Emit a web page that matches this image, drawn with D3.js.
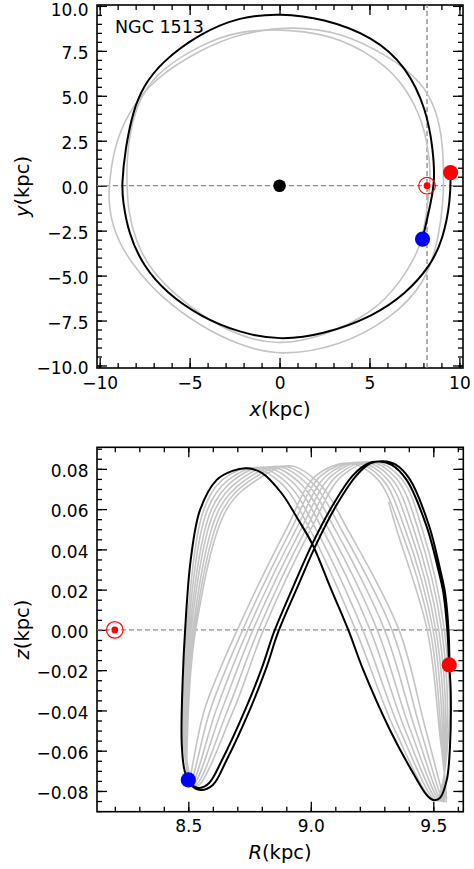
<!DOCTYPE html>
<html>
<head>
<meta charset="utf-8">
<script src="https://cdn.jsdelivr.net/npm/d3@7/dist/d3.min.js"></script>
<style>
body { margin: 0; background: #fff; }
svg { display: block; font-family: 'DejaVu Sans', sans-serif; }
.tick text { font-size: 17px; font-family: 'DejaVu Sans', sans-serif; fill: #000; }
.tick line { stroke: #000; stroke-width: 1.3; }
</style>
</head>
<body>
<svg width="474" height="869"></svg>
<script>
// ---- data ----
var galaxyName = 'NGC 1513';

// top panel: orbit in the x-y plane (kpc)
var xyBlack = [[7.95,-2.97],[8.45,-0.78],[8.63,0.33],[8.54,1.99],[8.17,4.22],[7.06,6.62],[5.21,8.29],
    [2.43,9.31],[0.02,9.59],[-2.2,9.4],[-4.42,8.48],[-6.64,6.81],[-7.57,5.51],[-8.13,4.22],[-8.59,2.0],
    [-8.77,0.05],[-8.72,-0.78],[-8.41,-2.63],[-7.57,-4.49],[-6.27,-5.97],[-4.42,-7.27],[-2.2,-8.19],
    [0.02,-8.6],[2.43,-8.28],[5.21,-7.27],[7.06,-5.97],[8.36,-4.49],[9.09,-3.01],[9.51,-0.78],[9.51,0.73]];
// two older turns, drawn as closed rings
var xyGrayOuter = [[9.13,0.05],[9.09,2.38],[8.72,4.22],[7.93,5.76],[6.13,7.18],[3.36,8.57],[0.58,8.88],
    [-2.2,8.48],[-4.42,7.55],[-6.64,6.16],[-7.94,4.77],[-8.87,3.11],[-9.31,1.44],[-9.46,0.05],[-9.52,-0.78],
    [-9.24,-2.63],[-8.13,-4.49],[-6.64,-6.16],[-4.42,-7.82],[-2.2,-8.89],[0.02,-9.49],[3.36,-8.93],
    [6.13,-7.45],[8.17,-5.41],[8.91,-2.63],[9.09,-0.78]];
var xyGrayInner = [[8.35,1.5],[8.05,3.2],[7.43,4.77],[6.13,6.62],[3.36,8.29],[0.58,8.70],[-2.2,8.66],
    [-4.42,7.83],[-6.64,6.44],[-7.76,4.96],[-8.31,3.11],[-8.49,1.44],[-8.49,0.05],[-8.42,-1.34],[-8.03,-3.01],
    [-7.2,-4.67],[-5.53,-6.33],[-3.59,-7.72],[-1.64,-8.55],[0.02,-8.84],[2.43,-8.39],[5.21,-7.06],
    [6.69,-5.41],[7.8,-3.56],[8.1,-2.0],[8.26,-0.78],[8.38,0.2]];

// bottom panel: orbit in the R-z plane (kpc)
var rzBlack = [[8.500,-0.0745],[8.520,-0.0775],[8.545,-0.0785],[8.585,-0.0760],[8.636,-0.0650],
    [8.731,-0.0400],[8.800,-0.0190],[8.850,-0.0010],[8.930,0.0220],[9.005,0.0425],[9.090,0.0620],
    [9.170,0.0765],[9.230,0.0825],[9.280,0.0836],[9.330,0.0820],[9.391,0.0745],[9.473,0.0513],
    [9.520,0.0300],[9.541,0.0184],[9.557,0.0000],[9.565,-0.0174],[9.571,-0.0300],[9.568,-0.0580],
    [9.555,-0.0745],[9.527,-0.0835],[9.500,-0.0845],[9.473,-0.0820],[9.418,-0.0712],[9.323,-0.0497],
    [9.214,-0.0199],[9.153,0.0000],[9.080,0.0210],[9.008,0.0422],[8.949,0.0547],[8.880,0.0680],
    [8.800,0.0780],[8.738,0.0803],[8.680,0.0790],[8.616,0.0745],[8.548,0.0596],[8.510,0.0350],
    [8.487,0.0000],[8.477,-0.0250],[8.473,-0.0560],[8.485,-0.0700],[8.510,-0.0770],[8.550,-0.0795],
    [8.600,-0.0770],[8.655,-0.0650],[8.750,-0.0400],[8.818,-0.0190],[8.867,-0.0010],[8.948,0.0220],
    [9.022,0.0425],[9.105,0.0620],[9.185,0.0765],[9.245,0.0828],[9.295,0.0838],[9.345,0.0822],
    [9.403,0.0750],[9.482,0.0520],[9.528,0.0300],[9.548,0.0184],[9.562,0.0000],[9.566,-0.0174]];
// earlier loops of the orbit (grey), oldest first
var rzGrayStart = [[9.317,0.0637]];
var rzGrayLoops = [
    [[9.135,0.0826],[9.251,0.075],[9.350,0.05],[9.475,0],[9.525,-0.05],[9.552,-0.0855],[9.470,-0.05],[9.360,0],[9.150,0.05],[9.040,0.072],[8.915,0.0815],[8.780,0.0745],[8.657,0.06],[8.530,0],[8.497,-0.05],[8.500,-0.0755],[8.565,-0.04],[8.700,0],[8.900,0.05],[9.020,0.0765]],
    [[9.156,0.0828],[9.271,0.075],[9.367,0.05],[9.487,0],[9.531,-0.05],[9.544,-0.0853],[9.449,-0.05],[9.331,0],[9.124,0.05],[9.014,0.072],[8.890,0.0813],[8.756,0.0745],[8.642,0.06],[8.524,0],[8.493,-0.05],[8.507,-0.0759],[8.589,-0.04],[8.722,0],[8.920,0.05],[9.041,0.0765]],
    [[9.177,0.0830],[9.291,0.075],[9.385,0.05],[9.499,0],[9.538,-0.05],[9.537,-0.0852],[9.428,-0.05],[9.301,0],[9.099,0.05],[8.989,0.072],[8.865,0.0812],[8.733,0.0745],[8.626,0.06],[8.518,0],[8.490,-0.05],[8.513,-0.0764],[8.613,-0.04],[8.743,0],[8.940,0.05],[9.063,0.0765]],
    [[9.197,0.0832],[9.311,0.075],[9.403,0.05],[9.510,0],[9.544,-0.05],[9.530,-0.0850],[9.407,-0.05],[9.271,0],[9.073,0.05],[8.963,0.072],[8.839,0.0810],[8.710,0.0745],[8.610,0.06],[8.511,0],[8.487,-0.05],[8.519,-0.0768],[8.636,-0.04],[8.764,0],[8.960,0.05],[9.084,0.0765]],
    [[9.218,0.0834],[9.331,0.075],[9.420,0.05],[9.522,0],[9.550,-0.05],[9.522,-0.0849],[9.386,-0.05],[9.242,0],[9.047,0.05],[8.937,0.072],[8.814,0.0808],[8.686,0.0745],[8.595,0.06],[8.505,0],[8.483,-0.05],[8.526,-0.0772],[8.660,-0.04],[8.786,0],[8.980,0.05],[9.106,0.0765]],
    [[9.239,0.0835],[9.351,0.075],[9.438,0.05],[9.534,0],[9.556,-0.05],[9.515,-0.0848],[9.365,-0.05],[9.212,0],[9.021,0.05],[8.911,0.072],[8.789,0.0807],[8.663,0.0745],[8.579,0.06],[8.499,0],[8.480,-0.05],[8.532,-0.0776],[8.684,-0.04],[8.807,0],[9.000,0.05],[9.127,0.0765]],
    [[9.259,0.0835],[9.371,0.075],[9.455,0.05],[9.545,0],[9.563,-0.05],[9.507,-0.0846],[9.344,-0.05],[9.183,0],[8.996,0.05],[8.886,0.072],[8.763,0.0805],[8.639,0.0745],[8.564,0.06],[8.493,0],[8.476,-0.05]]
];

// positions: Sun, Galactic centre, start (blue) and present (red)
var sunPos = [8.2, 0];
var gcPos = [0, 0];
var xyStart = [7.95, -2.97], xyNow = [9.51, 0.73];
var rzStart = [8.500, -0.0745], rzNow = [9.565, -0.0174];

// ticks
var topXTicks = [-10, -5, 0, 5, 10];
var topXLabels = ['\u221210', '\u22125', '0', '5', '10'];
var topYTicks = [-10, -7.5, -5, -2.5, 0, 2.5, 5, 7.5, 10];
var topYLabels = ['\u221210.0', '\u22127.5', '\u22125.0', '\u22122.5', '0.0', '2.5', '5.0', '7.5', '10.0'];
var botXTicks = [8.5, 9.0, 9.5];
var botXLabels = ['8.5', '9.0', '9.5'];
var botYTicks = [-0.08, -0.06, -0.04, -0.02, 0, 0.02, 0.04, 0.06, 0.08];
var botYLabels = ['\u22120.08', '\u22120.06', '\u22120.04', '\u22120.02', '0.00', '0.02', '0.04', '0.06', '0.08'];

// ---- layout ----
var svg = d3.select('svg');
var grayCol = '#c4c4c4', dashCol = '#8a8a8a';

var topX = d3.scaleLinear().domain([-10.15, 10.2]).range([97, 463]);
var topY = d3.scaleLinear().domain([-10.14, 10.05]).range([368, 5]);
var botX = d3.scaleLinear().domain([8.1273, 9.6224]).range([97, 463.3]);
var botY = d3.scaleLinear().domain([-0.0903, 0.0907]).range([811.7, 447.3]);

function drawFrame(x, y, id, o) {
    var g = svg.append('g');
    var x0 = x.range()[0], x1 = x.range()[1], y0 = y.range()[1], y1 = y.range()[0];
    g.append('clipPath').attr('id', id)
        .append('rect').attr('x', x0).attr('y', y0).attr('width', x1 - x0).attr('height', y1 - y0);

    // major and minor ticks on all four sides, pointing in
    function ax(axisFn, scale, vals, size, fmt, tr) {
        var a = axisFn(scale).tickValues(vals).tickSizeInner(size).tickSizeOuter(0)
            .tickPadding(fmt ? 8.5 : 0).tickFormat(fmt || '');
        return g.append('g').attr('transform', tr).call(a)
            .call(function(s) { s.select('.domain').remove(); });
    }
    ax(d3.axisBottom, x, o.xt, -10, function(d, i) { return o.xl[i]; }, 'translate(0,' + y1 + ')');
    ax(d3.axisBottom, x, o.xm, -5, null, 'translate(0,' + y1 + ')');
    ax(d3.axisTop, x, o.xt, -10, null, 'translate(0,' + y0 + ')');
    ax(d3.axisTop, x, o.xm, -5, null, 'translate(0,' + y0 + ')');
    var yl = ax(d3.axisLeft, y, o.yt, -10, function(d, i) { return o.yl[i]; }, 'translate(' + x0 + ',0)');
    ax(d3.axisLeft, y, o.ym, -5, null, 'translate(' + x0 + ',0)');
    ax(d3.axisRight, y, o.yt, -10, null, 'translate(' + x1 + ',0)');
    ax(d3.axisRight, y, o.ym, -5, null, 'translate(' + x1 + ',0)');
    // matplotlib centres y labels a touch below the tick; keep the top one inside the page
    yl.selectAll('.tick text').attr('dy', function(d) { return y(d) < 10 ? '0.58em' : '0.45em'; });

    g.append('rect').attr('x', x0).attr('y', y0).attr('width', x1 - x0).attr('height', y1 - y0)
        .attr('fill', 'none').attr('stroke', '#000').attr('stroke-width', 1.6);
    return g;
}

function inRange(lo, hi, step) {
    return d3.range(Math.round(lo / step), Math.round(hi / step) + 1).map(function(i) { return +(i * step).toFixed(4); });
}

drawFrame(topX, topY, 'clipTop', {
    xt: topXTicks, xl: topXLabels, xm: inRange(-10, 10, 1),
    yt: topYTicks, yl: topYLabels, ym: inRange(-10, 10, 0.5)
});
drawFrame(botX, botY, 'clipBot', {
    xt: botXTicks, xl: botXLabels, xm: inRange(8.2, 9.6, 0.1),
    yt: botYTicks, yl: botYLabels, ym: inRange(-0.09, 0.09, 0.005)
});

// ---- top panel ----
var topG = svg.append('g').attr('clip-path', 'url(#clipTop)');
var lineTop = d3.line().x(function(d) { return topX(d[0]); }).y(function(d) { return topY(d[1]); })
    .curve(d3.curveBasis);
var ringTop = d3.line().x(function(d) { return topX(d[0]); }).y(function(d) { return topY(d[1]); })
    .curve(d3.curveBasisClosed);

topG.append('line').attr('x1', topX.range()[0]).attr('x2', topX.range()[1])
    .attr('y1', topY(0)).attr('y2', topY(0))
    .attr('stroke', dashCol).attr('stroke-width', 1.3).attr('stroke-dasharray', '5,3');
topG.append('line').attr('x1', topX(sunPos[0])).attr('x2', topX(sunPos[0]))
    .attr('y1', topY.range()[0]).attr('y2', topY.range()[1])
    .attr('stroke', dashCol).attr('stroke-width', 1.3).attr('stroke-dasharray', '5,3');

[xyGrayOuter, xyGrayInner].forEach(function(pts) {
    topG.append('path').datum(pts).attr('d', ringTop)
        .attr('fill', 'none').attr('stroke', grayCol).attr('stroke-width', 1.6);
});
topG.append('path').datum(xyBlack).attr('d', lineTop)
    .attr('fill', 'none').attr('stroke', '#000').attr('stroke-width', 2);

topG.append('circle').attr('cx', topX(gcPos[0])).attr('cy', topY(gcPos[1])).attr('r', 6.3).attr('fill', '#000');
topG.append('circle').attr('cx', topX(sunPos[0])).attr('cy', topY(sunPos[1])).attr('r', 8.3)
    .attr('fill', 'none').attr('stroke', '#ff0000').attr('stroke-width', 1.2);
topG.append('circle').attr('cx', topX(sunPos[0])).attr('cy', topY(sunPos[1])).attr('r', 3.4).attr('fill', '#ff0000');
topG.append('circle').attr('cx', topX(xyStart[0])).attr('cy', topY(xyStart[1])).attr('r', 7.6).attr('fill', '#0000ff');
topG.append('circle').attr('cx', topX(xyNow[0])).attr('cy', topY(xyNow[1])).attr('r', 7.6).attr('fill', '#ff0000');

svg.append('text').attr('x', 115).attr('y', 33).attr('font-size', 17.5).text(galaxyName);

// ---- bottom panel ----
var botG = svg.append('g').attr('clip-path', 'url(#clipBot)');
var lineBot = d3.line().x(function(d) { return botX(d[0]); }).y(function(d) { return botY(d[1]); })
    .curve(d3.curveCatmullRom.alpha(0.5));

botG.append('line').attr('x1', botX.range()[0]).attr('x2', botX.range()[1])
    .attr('y1', botY(0)).attr('y2', botY(0))
    .attr('stroke', dashCol).attr('stroke-width', 1.3).attr('stroke-dasharray', '5,3');

var grayPath = rzGrayStart.concat(rzGrayLoops[0].slice(2));
rzGrayLoops.slice(1).forEach(function(loop) { grayPath = grayPath.concat(loop); });
grayPath.push(rzStart);
botG.append('path').datum(grayPath).attr('d', lineBot)
    .attr('fill', 'none').attr('stroke', grayCol).attr('stroke-width', 1.6);
botG.append('path').datum(rzBlack).attr('d', lineBot)
    .attr('fill', 'none').attr('stroke', '#000').attr('stroke-width', 2);

botG.append('circle').attr('cx', botX(sunPos[0])).attr('cy', botY(sunPos[1])).attr('r', 8.3)
    .attr('fill', 'none').attr('stroke', '#ff0000').attr('stroke-width', 1.2);
botG.append('circle').attr('cx', botX(sunPos[0])).attr('cy', botY(sunPos[1])).attr('r', 3.4).attr('fill', '#ff0000');
botG.append('circle').attr('cx', botX(rzStart[0])).attr('cy', botY(rzStart[1])).attr('r', 7.6).attr('fill', '#0000ff');
botG.append('circle').attr('cx', botX(rzNow[0])).attr('cy', botY(rzNow[1])).attr('r', 7.6).attr('fill', '#ff0000');

// ---- axis labels ----
function axisLabel(x, y, rot, name) {
    var t = svg.append('text').attr('font-size', 19.5).attr('text-anchor', 'middle')
        .attr('transform', 'translate(' + x + ',' + y + ')' + (rot ? ' rotate(-90)' : ''));
    t.append('tspan').attr('font-style', 'italic').text(name);
    t.append('tspan').text('(kpc)');
}
axisLabel(280, 416, false, 'x');
axisLabel(29, 186.5, true, 'y');
axisLabel(280, 859, false, 'R');
axisLabel(29, 629.5, true, 'z');
</script>
</body>
</html>
